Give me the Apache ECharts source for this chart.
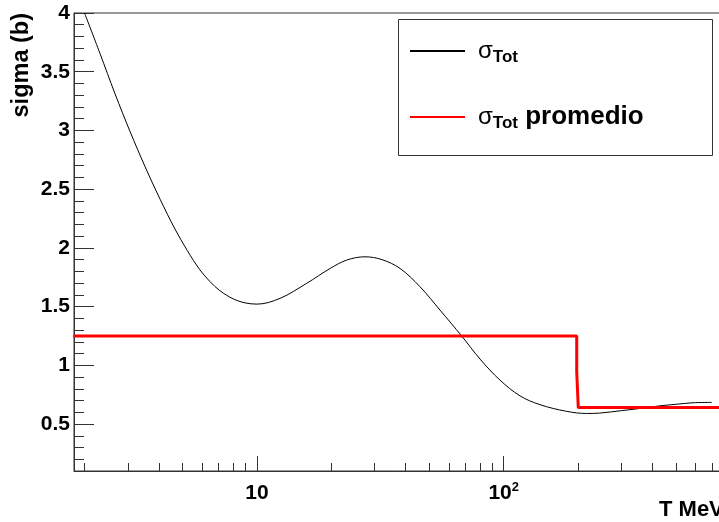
<!DOCTYPE html>
<html>
<head>
<meta charset="utf-8">
<script src="https://cdn.jsdelivr.net/npm/echarts@6/dist/echarts.min.js"></script>
<style>
html, body { margin: 0; padding: 0; background: #fff; }
#chart { width: 719px; height: 522px; }
</style>
</head>
<body>
<div id="chart"></div>
<script>
// Total cross section vs kinetic energy (MeV)
const energyTot = [2.0, 2.31, 2.66, 3.06, 3.52, 4.05, 4.65, 5.22, 5.87, 6.45, 7.08, 8.01, 8.94, 10,
  12.4, 15.9, 19.8, 23.1, 27.4, 32.1, 38.0, 45.8, 55.2, 67.6, 80.2, 96.6, 116.4, 140.3, 180, 217, 245,
  300, 346, 430, 500, 585, 697];
const sigmaTot = [4.0, 3.656, 3.311, 2.990, 2.691, 2.414, 2.161, 1.977, 1.813, 1.713, 1.635, 1.566, 1.532, 1.521,
  1.570, 1.698, 1.825, 1.896, 1.924, 1.900, 1.825, 1.669, 1.470, 1.249, 1.053, 0.874, 0.740, 0.665, 0.608, 0.590, 0.593,
  0.614, 0.629, 0.655, 0.668, 0.681, 0.684];

// Averaged cross section (two energy bins)
const energyAvg = [1.8, 197.7, 197.7, 200.6, 200.6, 800];
const sigmaAvg = [1.25, 1.25, 0.945, 0.945, 0.64, 0.64];

// Axis ticks
const yMajorTicks = [0.5, 1, 1.5, 2, 2.5, 3, 3.5, 4];
const yMinorTicks = [0.2, 0.3, 0.4, 0.6, 0.7, 0.8, 0.9, 1.1, 1.2, 1.3, 1.4, 1.6, 1.7, 1.8, 1.9,
  2.1, 2.2, 2.3, 2.4, 2.6, 2.7, 2.8, 2.9, 3.1, 3.2, 3.3, 3.4, 3.6, 3.7, 3.8, 3.9];
const xMajorTicks = [10, 100];
const xMinorTicks = [2, 3, 4, 5, 6, 7, 8, 9, 20, 30, 40, 50, 60, 70, 80, 90, 200, 300, 400, 500, 600, 700, 800];

const nameTot = 'σ_Tot';
const nameAvg = 'σ_Tot promedio';

const FONT = 'Liberation Sans, Arial, sans-serif';
const X_MIN = 1.813, X_MAX = 826.6, Y_MIN = 0.1, Y_MAX = 4;
const AXIS_COLOR = '#333';

function zip(xs, ys) { return xs.map((x, i) => [x, ys[i]]); }

const chart = echarts.init(document.getElementById('chart'), null, { renderer: 'canvas' });

const baseX = {
  type: 'log', logBase: 10, min: X_MIN, max: X_MAX, gridIndex: 0,
  splitLine: { show: false }, minorTick: { show: false }
};
const baseY = {
  type: 'value', min: Y_MIN, max: Y_MAX, gridIndex: 0,
  splitLine: { show: false }, minorTick: { show: false }
};

chart.setOption({
  animation: false,
  backgroundColor: '#fff',
  grid: {
    left: 74, top: 13, width: 656, height: 458,
    containLabel: false, outerBoundsMode: 'none',
    show: true, borderColor: AXIS_COLOR, borderWidth: 1, backgroundColor: 'transparent'
  },
  xAxis: [
    Object.assign({}, baseX, {
      position: 'bottom',
      axisLine: { show: true, lineStyle: { color: AXIS_COLOR, width: 1 } },
      axisTick: { show: true, inside: true, length: 15, lineStyle: { color: AXIS_COLOR }, customValues: xMajorTicks },
      axisLabel: {
        show: true, margin: 10, customValues: xMajorTicks,
        formatter: v => (Math.round(v) === 10 ? '{b|10}' : '{b|10}{s|2}'),
        rich: {
          b: { fontFamily: FONT, fontSize: 21, fontWeight: 'bold', color: '#000', lineHeight: 24 },
          s: { fontFamily: FONT, fontSize: 13, fontWeight: 'bold', color: '#000', lineHeight: 14, verticalAlign: 'top' }
        }
      }
    }),
    Object.assign({}, baseX, {
      position: 'bottom',
      axisLine: { show: false },
      axisTick: { show: true, inside: true, length: 8, lineStyle: { color: AXIS_COLOR }, customValues: xMinorTicks },
      axisLabel: { show: false }
    })
  ],
  yAxis: [
    Object.assign({}, baseY, {
      position: 'left',
      axisLine: { show: true, lineStyle: { color: AXIS_COLOR, width: 1 } },
      axisTick: { show: true, inside: true, length: 20, lineStyle: { color: AXIS_COLOR }, customValues: yMajorTicks },
      axisLabel: {
        show: true, margin: 4, customValues: yMajorTicks,
        fontFamily: FONT, fontSize: 21, fontWeight: 'bold', color: '#000',
        formatter: v => String(+v.toFixed(1))
      }
    }),
    Object.assign({}, baseY, {
      position: 'left',
      axisLine: { show: false },
      axisTick: { show: true, inside: true, length: 10, lineStyle: { color: AXIS_COLOR }, customValues: yMinorTicks },
      axisLabel: { show: false }
    })
  ],
  legend: {
    left: 409, top: 39, orient: 'vertical',
    padding: 0, itemGap: 38, itemWidth: 55, itemHeight: 14,
    itemStyle: { opacity: 0 },
    data: [nameTot, nameAvg],
    formatter: name => (name === nameTot ? '{g|σ}{t|Tot}' : '{g|σ}{t|Tot}{p| promedio}'),
    textStyle: {
      rich: {
        g: { fontFamily: FONT, fontSize: 24, color: '#000', lineHeight: 30, padding: [0, 0, 0, 8] },
        t: { fontFamily: FONT, fontSize: 17, fontWeight: 'bold', color: '#000', lineHeight: 12, verticalAlign: 'bottom' },
        p: { fontFamily: FONT, fontSize: 26, fontWeight: 'bold', color: '#000', lineHeight: 30 }
      }
    }
  },
  graphic: [
    {
      type: 'rect', z: -1,
      shape: { x: 398.5, y: 19.5, width: 314, height: 136 },
      style: { fill: '#fff', stroke: AXIS_COLOR, lineWidth: 1 }
    },
    {
      type: 'text', x: 22, y: 13, rotation: Math.PI / 2,
      style: { text: 'sigma (b)', fontFamily: FONT, fontSize: 23.5, fontWeight: 'bold', fill: '#000', align: 'right', verticalAlign: 'middle' }
    },
    {
      type: 'text', x: 659, y: 499,
      style: { text: 'T MeV', fontFamily: FONT, fontSize: 22, fontWeight: 'bold', fill: '#000', align: 'left', verticalAlign: 'top' }
    }
  ],
  series: [
    {
      name: nameTot, type: 'line', xAxisIndex: 0, yAxisIndex: 0,
      data: zip(energyTot, sigmaTot),
      showSymbol: false, symbol: 'none', smooth: 0.35, clip: true,
      lineStyle: { color: '#000', width: 1 }, itemStyle: { color: '#000' }
    },
    {
      name: nameAvg, type: 'line', xAxisIndex: 0, yAxisIndex: 0,
      data: zip(energyAvg, sigmaAvg),
      showSymbol: false, symbol: 'none', clip: true,
      lineStyle: { color: '#ff0000', width: 3 }, itemStyle: { color: '#ff0000' }
    }
  ]
});
</script>
</body>
</html>
